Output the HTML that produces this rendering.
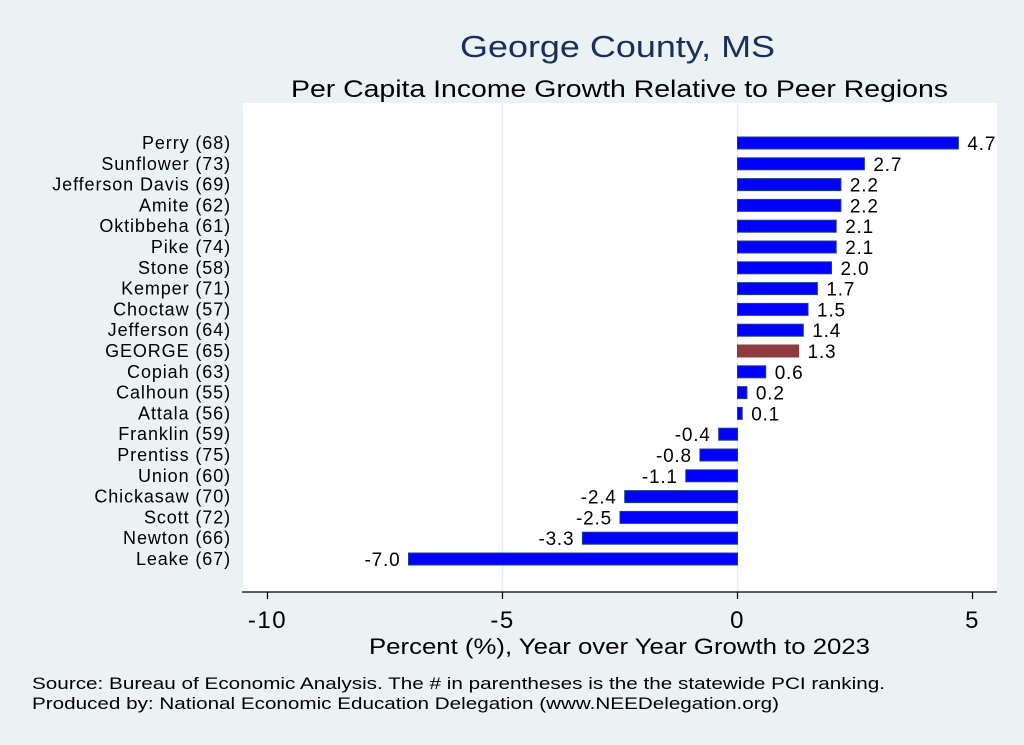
<!DOCTYPE html>
<html><head><meta charset="utf-8"><style>
body{margin:0;background:#eaf2f3;font-family:"Liberation Sans",sans-serif;}
svg{display:block}
</style></head><body>
<svg width="1024" height="745">
<rect width="1024" height="745" fill="#eaf2f3"/>
<text x="460" y="57" font-size="31" fill="#1a2f5a" textLength="315" lengthAdjust="spacingAndGlyphs">George County, MS</text>
<text x="291" y="97" font-size="24" fill="#000" textLength="657" lengthAdjust="spacingAndGlyphs">Per Capita Income Growth Relative to Peer Regions</text>
<rect x="243" y="103" width="754" height="489" fill="#fff"/>
<g id="grid"></g>
<g id="bars"></g>
<line x1="242" y1="592" x2="997" y2="592" stroke="#000" stroke-width="1.3"/>
<g id="ticks"></g>
<text x="369" y="654" font-size="22" textLength="501" lengthAdjust="spacingAndGlyphs">Percent (%), Year over Year Growth to 2023</text>
<text x="32" y="689" font-size="17" textLength="853" lengthAdjust="spacingAndGlyphs">Source: Bureau of Economic Analysis. The # in parentheses is the the statewide PCI ranking.</text>
<text x="32" y="709" font-size="17" textLength="747" lengthAdjust="spacingAndGlyphs">Produced by: National Economic Education Delegation (www.NEEDelegation.org)</text>
</svg>
<script>
const categories=["Perry (68)","Sunflower (73)","Jefferson Davis (69)","Amite (62)","Oktibbeha (61)","Pike (74)","Stone (58)","Kemper (71)","Choctaw (57)","Jefferson (64)","GEORGE (65)","Copiah (63)","Calhoun (55)","Attala (56)","Franklin (59)","Prentiss (75)","Union (60)","Chickasaw (70)","Scott (72)","Newton (66)","Leake (67)"];
const values=[4.7,2.7,2.2,2.2,2.1,2.1,2.0,1.7,1.5,1.4,1.3,0.6,0.2,0.1,-0.4,-0.8,-1.1,-2.4,-2.5,-3.3,-7.0];
const tickValues=[-10,-5,0,5];
const highlight="GEORGE (65)";
const NS="http://www.w3.org/2000/svg";
function xs(v){return 737.5+v*47;}
function ys(i){return 143+i*20.8;}
function mk(t,a,p,txt){const e=document.createElementNS(NS,t);for(const k in a)e.setAttribute(k,a[k]);if(txt!==undefined)e.textContent=txt;p.appendChild(e);return e;}
const grid=document.getElementById('grid'),bars=document.getElementById('bars'),ticks=document.getElementById('ticks');
tickValues.forEach(v=>{
 if(v>-10&&v<5){const g=mk('line',{x1:xs(v),x2:xs(v),y1:103,y2:592,stroke:'#e6eef2','stroke-width':1.5},grid);
 
 }
 const t=mk('line',{x1:xs(v),x2:xs(v),y1:592,y2:599,stroke:'#000','stroke-width':1.3},ticks);
 
 
 const l=mk('text',{x:xs(v),y:628,'font-size':24,'letter-spacing':1.5,'text-anchor':'middle'},ticks,String(v));
 
 
});
categories.forEach((c,i)=>{
 const v=values[i],y=ys(i),x0=xs(0),x1=xs(v);
 const hi=c===highlight;
 const r=mk('rect',{x:Math.min(x0,x1),y:y-6,width:Math.max(Math.abs(x1-x0),1.5),height:12,fill:hi?'#8f3a3f':'#0000ff',stroke:hi?'#8f3a3f':'#1a3f8a','stroke-width':1},bars);
 
 
 const lab=mk('text',{x:231,y:y+6,'font-size':18,'letter-spacing':0.9,'text-anchor':'end'},bars,c);
 
 
 const vl=mk('text',{x:v>=0?x1+9:x1-8,y:y+7,'font-size':19,'letter-spacing':0.8,'text-anchor':v>=0?'start':'end'},bars,v.toFixed(1));
 
 
});
</script>
</body></html>
